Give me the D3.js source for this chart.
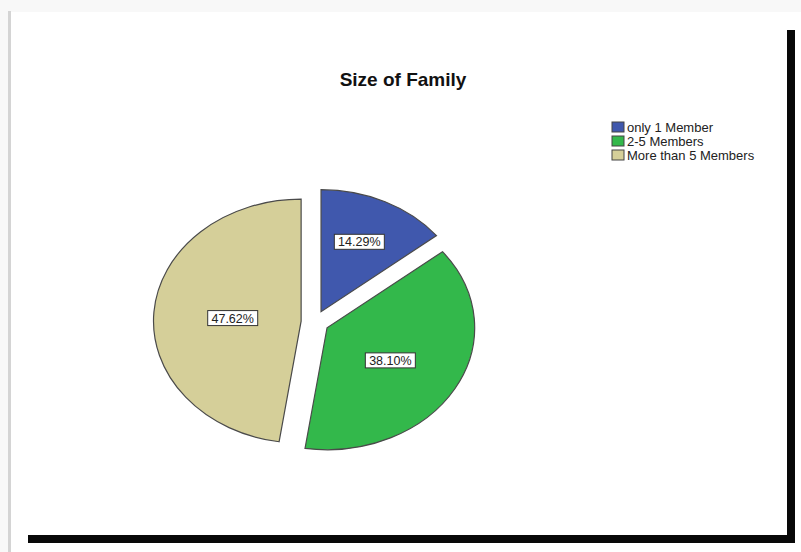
<!DOCTYPE html>
<html>
<head>
<meta charset="utf-8">
<script src="https://cdn.jsdelivr.net/npm/d3@7"></script>
<style>
  html, body { margin: 0; padding: 0; background: #f8f8f8; }
  svg { display: block; }
  text { font-family: "Liberation Sans", Arial, sans-serif; }
</style>
</head>
<body>
<svg id="chart" width="801" height="552"></svg>
<script>
// ---- data ----
const categories = ["only 1 Member", "2-5 Members", "More than 5 Members"];
const values = [14.29, 38.10, 47.62];
const labels = ["14.29%", "38.10%", "47.62%"];
const colors = ["#4058ad", "#33b84b", "#d5cf99"];
const title = "Size of Family";

const W = 801, H = 552;
const svg = d3.select("#chart");

// page frame
svg.append("rect").attr("x", 0).attr("y", 0).attr("width", W).attr("height", H).attr("fill", "#f8f8f8");
svg.append("rect").attr("x", 8).attr("y", 11).attr("width", 3).attr("height", H - 11).attr("fill", "#d4d4d4");
svg.append("rect").attr("x", 11).attr("y", 12).attr("width", W - 11).attr("height", H - 12).attr("fill", "#ffffff");
// black drop-shadow border
svg.append("rect").attr("x", 787).attr("y", 30).attr("width", 8).attr("height", 513).attr("fill", "#080808");
svg.append("rect").attr("x", 28).attr("y", 535).attr("width", 767).attr("height", 8).attr("fill", "#080808");

// title
svg.append("text")
  .attr("x", 403).attr("y", 86)
  .attr("text-anchor", "middle")
  .attr("font-size", 19).attr("font-weight", "bold")
  .attr("fill", "#111")
  .text(title);

// pie (elliptical: scaled horizontally)
const cx = 315, cy = 322, r = 122, sx = 1.21, explode = 11.5;
const pie = d3.pie().sort(null).value(d => d)(values);
const arc = d3.arc().innerRadius(0).outerRadius(r);

const g = svg.append("g").attr("transform", `translate(${cx},${cy}) scale(${sx},1)`);

function dirOf(a) { return [Math.sin(a), -Math.cos(a)]; }

g.selectAll("path.slice").data(pie).join("path")
  .attr("class", "slice")
  .attr("d", arc)
  .attr("transform", d => {
    const m = (d.startAngle + d.endAngle) / 2;
    const [dx, dy] = dirOf(m);
    return `translate(${dx * explode},${dy * explode})`;
  })
  .attr("fill", (d, i) => colors[i])
  .attr("stroke", "#4a4a4a")
  .attr("stroke-width", 1.2)
  .attr("vector-effect", "non-scaling-stroke");

// labels near sector centroid
const lab = svg.append("g");
pie.forEach((d, i) => {
  const m = (d.startAngle + d.endAngle) / 2;
  const half = (d.endAngle - d.startAngle) / 2;
  const rc = 2 * r * Math.sin(half) / (3 * half) + explode;
  const [ux, uy] = dirOf(m);
  const x = cx + ux * rc * sx - 3, y = cy + uy * rc + 1;
  const bw = 50, bh = 15;
  lab.append("rect")
    .attr("x", x - bw / 2).attr("y", y - bh / 2)
    .attr("width", bw).attr("height", bh)
    .attr("fill", "#ffffff").attr("stroke", "#333").attr("stroke-width", 1);
  lab.append("text")
    .attr("x", x).attr("y", y + 4.5)
    .attr("text-anchor", "middle")
    .attr("font-size", 12.5).attr("fill", "#222")
    .text(labels[i]);
});

// legend
const leg = svg.append("g");
categories.forEach((c, i) => {
  const y0 = 122 + i * 14;
  leg.append("rect")
    .attr("x", 612).attr("y", y0)
    .attr("width", 12).attr("height", 10)
    .attr("fill", colors[i]).attr("stroke", "#444").attr("stroke-width", 1);
  leg.append("text")
    .attr("x", 627).attr("y", y0 + 9.5)
    .attr("font-size", 13).attr("fill", "#222")
    .text(c);
});
</script>
</body>
</html>
